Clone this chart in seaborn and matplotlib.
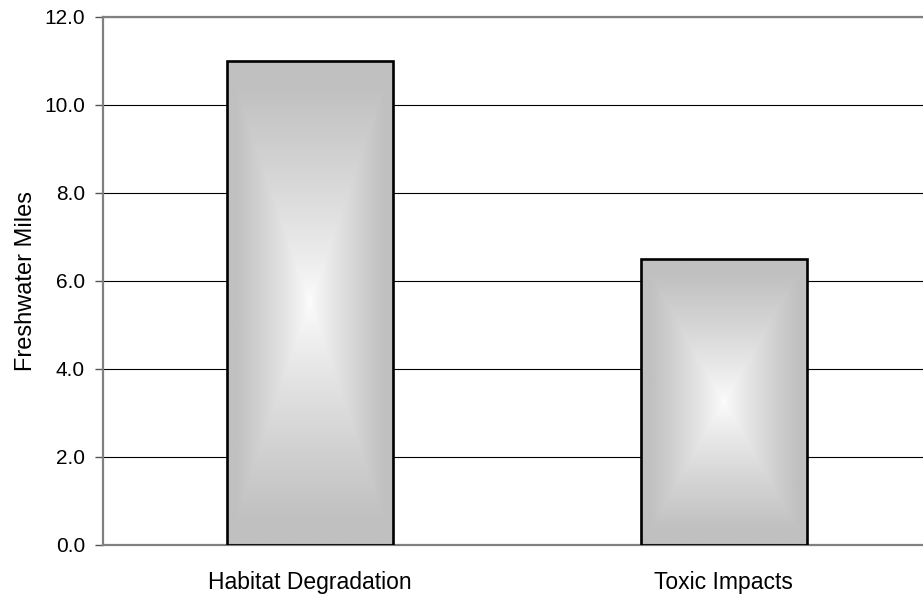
import numpy as np
import pandas as pd
import matplotlib
matplotlib.use("Agg")
import matplotlib.pyplot as plt
import seaborn as sns
from matplotlib.ticker import FixedLocator

categories = ["Habitat Degradation", "Toxic Impacts"]
values = [11.0, 6.5]
yticks = [0.0, 2.0, 4.0, 6.0, 8.0, 10.0, 12.0]
ylabel = "Freshwater Miles"

sns.set_theme(style="white")
plt.rcParams["font.family"] = ["Liberation Sans", "DejaVu Sans"]
plt.rcParams["text.color"] = "black"
plt.rcParams["xtick.color"] = "black"
plt.rcParams["ytick.color"] = "black"
plt.rcParams["axes.labelcolor"] = "black"

fig = plt.figure(figsize=(9.23, 5.97), dpi=100)
W, H = 923, 597
ax = fig.add_axes([103 / W, (597 - 545) / H, (923 - 103) / W, (545 - 17) / H])

df = pd.DataFrame({"cat": categories, "val": values})
sns.barplot(data=df, x="cat", y="val", ax=ax, width=0.4,
            facecolor="none", edgecolor="black", linewidth=1.9, zorder=3)

ax.set_axisbelow(True)

# rectangular "from centre" gradient fill inside each bar
gray = 192 / 255
for p in list(ax.patches):
    x0, y0 = p.get_x(), p.get_y()
    w, h = p.get_width(), p.get_height()
    ny, nx = 400, 160
    u = np.linspace(-1, 1, nx)[None, :]
    v = np.linspace(-1, 1, ny)[:, None]
    t = np.maximum(np.abs(u), np.abs(v))
    t = np.clip(t / 0.9, 0, 1) ** 0.85
    c = 0.99 * (1 - t) + gray * t
    img = np.dstack([c, c, c])
    im = ax.imshow(img, extent=(x0, x0 + w, y0, y0 + h), origin="lower",
                   aspect="auto", zorder=2, interpolation="bilinear")
    im.set_clip_path(p)

ax.set_ylim(0, 12)
ax.set_xlim(-0.5, 1.481)

ax.set_yticks(yticks)
ax.set_yticklabels([f"{v:.1f}" for v in yticks], fontsize=15)
ax.yaxis.grid(True, color="black", linewidth=0.8)
ax.xaxis.grid(False)

ax.set_xticks([0, 1])
ax.set_xticklabels(categories, fontsize=16.5)
ax.xaxis.set_minor_locator(FixedLocator([-0.5, 0.5, 1.5]))
ax.tick_params(axis="x", which="major", length=0, pad=19)
ax.tick_params(axis="x", which="minor", length=6, width=1, color="#555555", direction="out")
ax.tick_params(axis="y", which="major", length=6, width=1, color="#555555",
               direction="out", pad=7, left=True)
ax.set_xlabel("")
ax.set_ylabel(ylabel, fontsize=17, labelpad=5)

for s in ["left", "top", "bottom"]:
    ax.spines[s].set_visible(True)
    ax.spines[s].set_color("#808080")
    ax.spines[s].set_linewidth(1.6)
ax.spines["right"].set_visible(False)

fig.savefig("out.png", dpi=100)
